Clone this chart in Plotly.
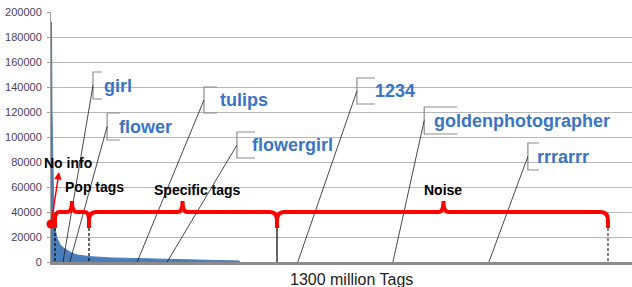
import plotly.graph_objects as go

# ---- data ----
tag_rank_million = [0, 1.2, 2.3, 4.7, 7, 9.3, 14, 21, 28, 37, 49, 61, 91, 138, 191, 278, 348, 425, 439, 441]
tag_count = [192000, 192000, 120000, 70000, 31000, 27000, 19000, 14000, 11500, 9600, 7000,
             5600, 4300, 3300, 2800, 2000, 1500, 1000, 800, 0]

y_ticks = [0, 20000, 40000, 60000, 80000, 100000, 120000, 140000, 160000, 180000, 200000]

segment_names = ["Pop tags", "Specific tags", "Noise"]
segment_bounds = [9.3, 88.7, 527.5, 1300]     # million tags
segment_peak = [49, 307, 916]

example_tags = ["girl", "flower", "tulips", "flowergirl", "1234", "goldenphotographer", "rrrarrr"]
example_rank = [28, 44, 201, 271, 576, 798, 1022]  # where each tag sits on the x axis

# ---- callout layout (placement of the labels) ----
callout_x = [98, 131, 357, 434, 714, 871, 1113]
callout_top = [152000, 119200, 140000, 104000, 147200, 124000, 95200]
callout_bot = [130400, 97600, 119200, 83200, 126400, 102400, 73600]
callout_tick = [21, 30, 30, 42, 42, 77, 26]
callout_text_dx = [20, 22, 32, 30, 37, 18, 17]

KX = 1300 / 557.0   # data units per pixel (x)
KY = 800            # data units per pixel (y)

fig = go.Figure()
fig.add_trace(go.Scatter(
    x=tag_rank_million, y=tag_count, mode="lines", fill="tozeroy",
    line=dict(color="#4a7ebb", width=1), fillcolor="#4a7ebb", hoverinfo="skip",
    showlegend=False))

shapes = []
annotations = []

# callouts
for i, name in enumerate(example_tags):
    bx, t, b, tk = callout_x[i], callout_top[i], callout_bot[i], callout_tick[i]
    mid = (t + b) / 2
    shapes.append(dict(type="path", xref="x", yref="y",
                       path=f"M {bx+tk},{t} L {bx},{t} L {bx},{b} L {bx+tk},{b}",
                       line=dict(color="#8c8c8c", width=1.2)))
    shapes.append(dict(type="line", xref="x", yref="y", x0=bx, y0=mid, x1=example_rank[i], y1=0,
                       line=dict(color="#1a1a1a", width=0.8)))
    annotations.append(dict(x=bx + callout_text_dx[i], y=mid, xref="x", yref="y",
                            text=f"<b>{name}</b>", showarrow=False, xanchor="left", yanchor="middle",
                            font=dict(family="Liberation Sans", size=18, color="#3b74c6")))

# braces
yh, ylo, ypk = 40000, 27200, 48800


def brace(x0, x1, xm, rx, rp):
    dy = 7000
    return (f"M {x0},{ylo} L {x0},{yh-dy} Q {x0},{yh} {x0+rx},{yh} "
            f"L {xm-rp},{yh} Q {xm},{yh} {xm},{ypk} Q {xm},{yh} {xm+rp},{yh} "
            f"L {x1-rx},{yh} Q {x1},{yh} {x1},{yh-dy} L {x1},{ylo}")


for i in range(3):
    x0, x1 = segment_bounds[i], segment_bounds[i + 1]
    rx = 4 * KX if i == 0 else 7 * KX
    rp = 5 * KX
    shapes.append(dict(type="path", xref="x", yref="y", path=brace(x0, x1, segment_peak[i], rx, rp),
                       line=dict(color="#ff0000", width=4)))

# vertical separators
for xv, dash, col in [(segment_bounds[0], "3px,2px", "#111111"), (segment_bounds[1], "3px,2px", "#111111"),
                      (segment_bounds[2], "solid", "#111111"), (segment_bounds[3], "3px,2px", "#444444")]:
    shapes.append(dict(type="line", xref="x", yref="y", x0=xv, x1=xv, y0=ylo, y1=0,
                       line=dict(color=col, width=1.3, dash=dash)))

# segment labels (pixel-based placement)
seg_label_px = [94, 197, 443]
seg_label_py = [187, 190, 190]
for i, name in enumerate(segment_names):
    annotations.append(dict(x=(seg_label_px[i] - 51) * KX, y=(262 - seg_label_py[i]) * KY,
                            xref="x", yref="y",
                            text=f"<b>{name}</b>", showarrow=False, xanchor="center", yanchor="middle",
                            font=dict(family="Liberation Sans", size=14, color="#000000")))

annotations.append(dict(x=(68 - 51) * KX, y=(262 - 163) * KY, xref="x", yref="y",
                        text="<b>No info</b>", showarrow=False, xanchor="center", yanchor="middle",
                        font=dict(family="Liberation Sans", size=14, color="#000000")))

# red arrow from dot
annotations.append(dict(x=18.7, y=72000, ax=1, ay=32000, xref="x", yref="y", axref="x", ayref="y",
                        text="", showarrow=True, arrowhead=2, arrowsize=1, arrowwidth=1.5,
                        arrowcolor="#ff0000", standoff=0, startstandoff=0))

# red dot at the origin of the "No info" arrow (paper coords so it is not clipped)
dot_px, dot_py, dot_r = 51, 224, 4.5
shapes.append(dict(type="circle", xref="paper", yref="paper",
                   x0=(dot_px - dot_r - 51) / 581, x1=(dot_px + dot_r - 51) / 581,
                   y0=(262 - dot_py - dot_r) / 250, y1=(262 - dot_py + dot_r) / 250,
                   fillcolor="#ff0000", line=dict(color="#ff0000", width=0)))

# x axis title
annotations.append(dict(x=0.5, y=0, xref="paper", yref="paper", yshift=-17,
                        xshift=(351 - 51) - 581 / 2,
                        text="1300 million Tags", showarrow=False, xanchor="center", yanchor="middle",
                        font=dict(family="Liberation Sans", size=16, color="#222222")))

fig.update_layout(
    width=632, height=287, autosize=False,
    margin=dict(l=51, r=0, t=12, b=25),
    paper_bgcolor="white", plot_bgcolor="white",
    shapes=shapes, annotations=annotations,
    xaxis=dict(range=[0, 581 * KX], showgrid=False, showticklabels=False, zeroline=False,
               showline=True, linecolor="#8c8c8c", linewidth=3, ticks="", automargin=False),
    yaxis=dict(range=[0, 200000], tickvals=y_ticks, tickformat="d", showgrid=True,
               gridcolor="#b8b8b8", gridwidth=1.2, zeroline=False, showline=True,
               linecolor="#a0a0a0", linewidth=1, ticks="outside", ticklen=3, tickcolor="#a0a0a0",
               ticklabelstandoff=3, automargin=False,
               tickfont=dict(family="Liberation Sans", size=11, color="#4a4060")),
    hovermode=False,
)

fig.write_html("out.html", config={"displayModeBar": False},
               post_script="document.body.style.margin='0';document.body.style.padding='0';")
